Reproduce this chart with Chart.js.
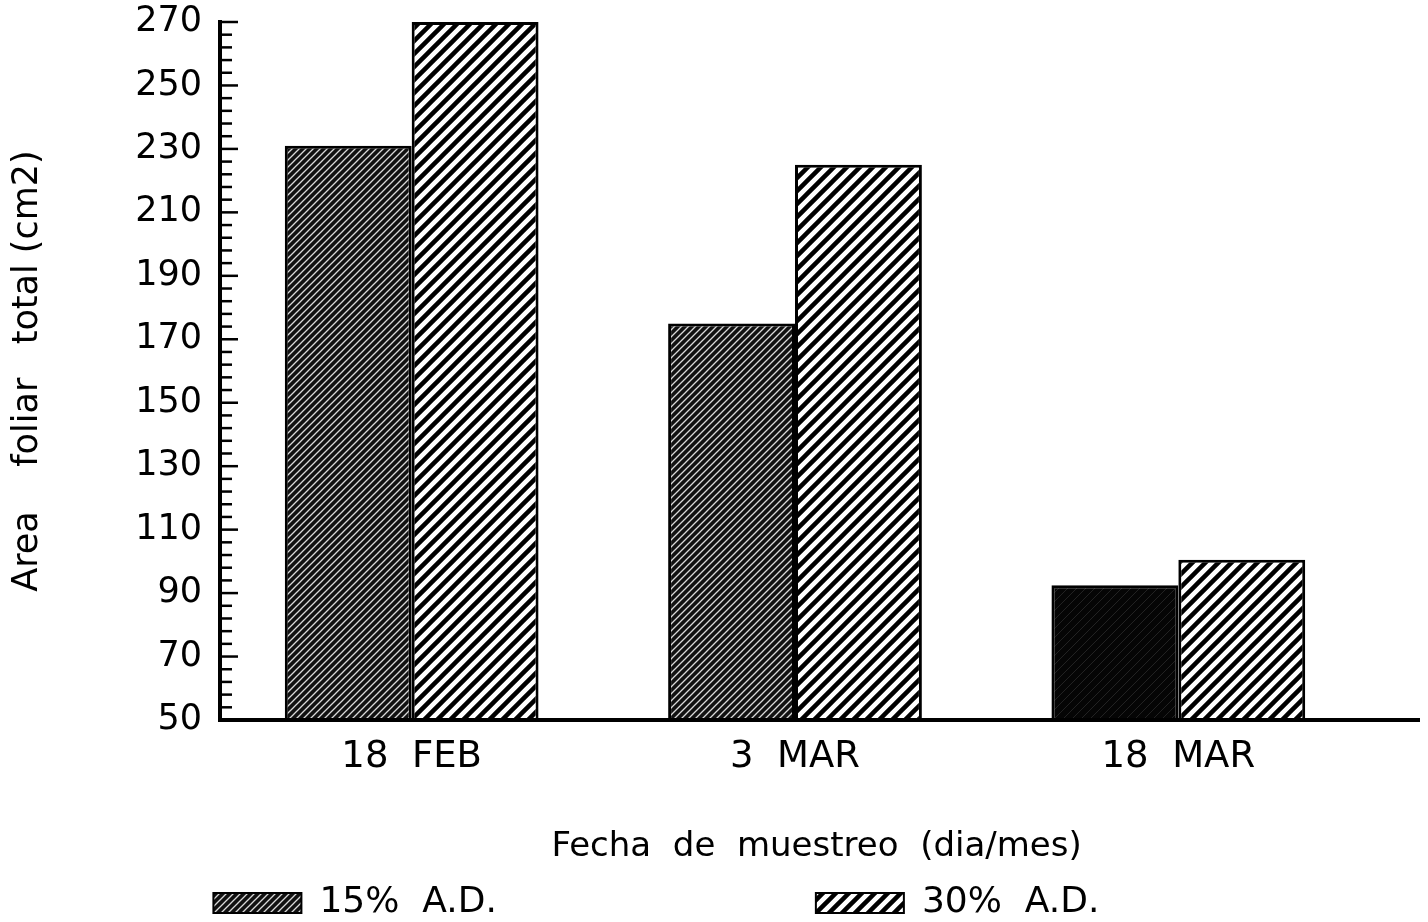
<!DOCTYPE html>
<html>
<head>
<meta charset="utf-8">
<script src="https://cdn.jsdelivr.net/npm/chart.js@4"></script>
<style>
  html, body { margin: 0; padding: 0; background: #fff; }
  #wrap { width: 1428px; height: 922px; }
</style>
</head>
<body>
<div id="wrap"><canvas id="mainChart" width="1428" height="922"></canvas></div>
<script>
// Data
const categories = ["18  FEB", "3  MAR", "18  MAR"];
const seriesNames = ["15%  A.D.", "30%  A.D."];
const ad15 = [231, 175, 92.5];
const ad30 = [270, 225, 100.5];
const yMin = 50;
const yMax = 270;

// Build a diagonal hatch pattern "/"
function makeHatch(bg, fg, size, lw) {
  const c = document.createElement("canvas");
  c.width = size;
  c.height = size;
  const g = c.getContext("2d");
  g.fillStyle = bg;
  g.fillRect(0, 0, size, size);
  g.strokeStyle = fg;
  g.lineWidth = lw;
  g.beginPath();
  g.moveTo(0, size);
  g.lineTo(size, 0);
  g.moveTo(-2, 2);
  g.lineTo(2, -2);
  g.moveTo(size - 2, size + 2);
  g.lineTo(size + 2, size - 2);
  g.stroke();
  return g.createPattern(c, "repeat");
}

const darkHatch = makeHatch("#111", "#d8d8d8", 7, 1.3);
const blackFill = makeHatch("#050505", "#222", 9, 1);
const lightHatch = makeHatch("#fff", "#000", 13, 4.5);

Chart.defaults.font.family = "'DejaVu Sans', sans-serif";
Chart.defaults.color = "#000";

// Inside ticks + axis lines (x axis runs past the last group)
const axisPlugin = {
  id: "axisPlugin",
  afterDatasetsDraw(chart) {
    const { ctx, chartArea, scales } = chart;
    const y = scales.y;
    ctx.save();
    ctx.strokeStyle = "#000";
    ctx.lineWidth = 2.5;
    y.ticks.forEach((t) => {
      const py = y.getPixelForValue(t.value);
      const major = (t.value - yMin) % 20 === 0;
      ctx.beginPath();
      ctx.moveTo(chartArea.left, py);
      ctx.lineTo(chartArea.left + (major ? 18 : 12), py);
      ctx.stroke();
    });
    ctx.lineWidth = 4;
    ctx.beginPath();
    ctx.moveTo(chartArea.left, chartArea.top - 2);
    ctx.lineTo(chartArea.left, chartArea.bottom);
    ctx.lineTo(1420, chartArea.bottom);
    ctx.stroke();
    ctx.restore();
  }
};

// trailing spaces spread the two legend items apart
const legendText = [seriesNames[0] + " ".repeat(27), seriesNames[1] + " ".repeat(5)];

const ctx = document.getElementById("mainChart").getContext("2d");
new Chart(ctx, {
  type: "bar",
  data: {
    labels: categories,
    datasets: [
      {
        label: seriesNames[0],
        data: ad15,
        backgroundColor: [darkHatch, darkHatch, blackFill],
        borderColor: "#000",
        borderWidth: 3
      },
      {
        label: seriesNames[1],
        data: ad30,
        backgroundColor: lightHatch,
        borderColor: "#000",
        borderWidth: 3
      }
    ]
  },
  plugins: [axisPlugin],
  options: {
    responsive: false,
    animation: false,
    layout: { padding: { left: 0, right: 58, top: 22, bottom: -9 } },
    datasets: {
      bar: { barPercentage: 1, categoryPercentage: 0.662 }
    },
    scales: {
      x: {
        grid: { display: false, drawTicks: false },
        border: { display: false },
        ticks: { padding: 15, font: { size: 37 } },
        title: {
          display: true,
          text: "    Fecha  de  muestreo  (dia/mes)",
          font: { size: 34 },
          padding: { top: 0, bottom: 7 }
        },
        afterFit: (s) => { s.height = 155; }
      },
      y: {
        min: yMin,
        max: yMax,
        grid: { display: false, drawTicks: false },
        border: { display: false },
        ticks: {
          stepSize: 4,
          autoSkip: false,
          padding: 18,
          font: { size: 35 },
          callback: (v) => ((v - yMin) % 20 === 0 ? v : "")
        },
        title: {
          display: true,
          text: "Area    foliar   total (cm2)",
          font: { size: 35 },
          padding: { top: 7, bottom: 0 }
        },
        afterFit: (s) => {
          s.width = 220;
          s.paddingTop = 0;
          s.paddingBottom = 0;
        }
      }
    },
    plugins: {
      tooltip: { enabled: false },
      legend: {
        position: "bottom",
        labels: {
          boxWidth: 88,
          boxHeight: 20,
          font: { size: 36 },
          padding: 10,
          generateLabels: () => [
            { text: legendText[0], fillStyle: darkHatch, strokeStyle: "#000", lineWidth: 2, datasetIndex: 0 },
            { text: legendText[1], fillStyle: lightHatch, strokeStyle: "#000", lineWidth: 2, datasetIndex: 1 }
          ]
        }
      }
    }
  }
});
</script>
</body>
</html>
